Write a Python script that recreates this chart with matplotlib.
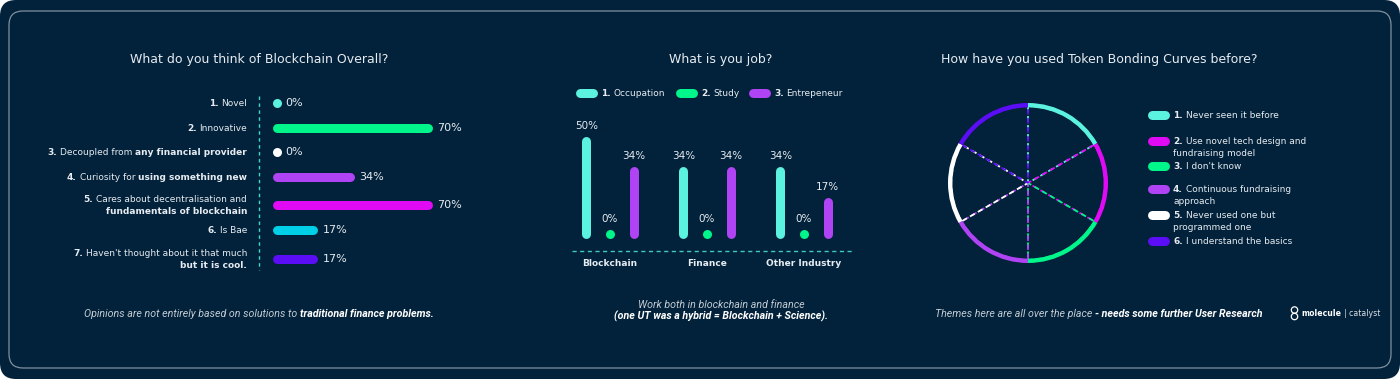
import numpy as np
import matplotlib
matplotlib.use("Agg")
import matplotlib.pyplot as plt
from matplotlib.patches import FancyBboxPatch, Circle

# ---- data ----
opinion_labels = [
    [[("1.", True), (" Novel", False)]],
    [[("2.", True), (" Innovative", False)]],
    [[("3.", True), (" Decoupled from ", False), ("any financial provider", True)]],
    [[("4.", True), (" Curiosity for ", False), ("using something new", True)]],
    [[("5.", True), (" Cares about decentralisation and", False)],
     [("fundamentals of blockchain", True)]],
    [[("6.", True), (" Is Bae", False)]],
    [[("7.", True), (" Haven't thought about it that much", False)],
     [("but it is cool.", True)]],
]
opinion_values = [0, 70, 0, 34, 70, 17, 17]
opinion_colors = ['#5cf2e0', '#00f58a', '#ffffff', '#b044f5', '#e00af5', '#00cfe8', '#5b0ef5']

job_groups = ['Blockchain', 'Finance', 'Other Industry']
job_series = ['Occupation', 'Study', 'Entrepeneur']
occupation = [50, 34, 34]
study = [0, 0, 0]
entrepreneur = [34, 34, 17]
job_colors = ['#5cf2e0', '#00f58a', '#b044f5']

tbc_labels = [
    [[("1.", True), (" Never seen it before", False)]],
    [[("2.", True), (" Use novel tech design and", False)], [("fundraising model", False)]],
    [[("3.", True), (" I don't know", False)]],
    [[("4.", True), (" Continuous fundraising", False)], [("approach", False)]],
    [[("5.", True), (" Never used one but", False)], [("programmed one", False)]],
    [[("6.", True), (" I understand the basics", False)]],
]
tbc_shares = [1, 1, 1, 1, 1, 1]
tbc_colors = ['#5cf2e0', '#e00af5', '#00f58a', '#b044f5', '#ffffff', '#5b0ef5']

NAVY = '#02213a'
TXT = '#e6ecf1'
SOFT = '#c3ccd4'
PX = 0.72  # points per pixel at dpi 100

W, H = 1400, 379
fig = plt.figure(figsize=(W / 100, H / 100), dpi=100, facecolor='white')
bg = fig.add_axes([0, 0, 1, 1])
bg.set_xlim(0, W)
bg.set_ylim(H, 0)
bg.axis('off')
bg.add_patch(FancyBboxPatch((0, 0), W, H, boxstyle='round,pad=0,rounding_size=16',
                            fc=NAVY, ec='none', zorder=0))
bg.add_patch(FancyBboxPatch((9, 11), 1382, 357, boxstyle='round,pad=0,rounding_size=14',
                            fc='none', ec='#7f909f', lw=0.9, zorder=1))

renderer = fig.canvas.get_renderer()


def text_w(s, **kw):
    t = bg.text(0, 0, s, **kw)
    w = t.get_window_extent(renderer).width
    t.remove()
    return w


def rich_line(x, y, parts, ha='left', size=6.5, color=TXT, bold_color=None,
              style='normal', family='DejaVu Sans'):
    # y is the text centre line in pixels; pieces placed on a common baseline
    kw = dict(fontsize=size, fontstyle=style, family=family)
    space = text_w("n n", **kw) - text_w("nn", **kw)
    pieces = []
    total = 0
    for s, b in parts:
        lead = len(s) - len(s.lstrip(' '))
        trail = len(s) - len(s.rstrip(' '))
        core = s.strip(' ')
        c = (bold_color or color) if b else color
        t = bg.text(0, y + size * 0.36 / PX, core, color=c,
                    fontweight='bold' if b else 'normal',
                    va='baseline', ha='left', zorder=5, **kw)
        w = t.get_window_extent(renderer).width
        pieces.append((t, lead * space, w, trail * space))
        total += lead * space + w + trail * space
    if ha == 'right':
        cur = x - total
    elif ha == 'center':
        cur = x - total / 2
    else:
        cur = x
    for t, l, w, tr in pieces:
        cur += l
        t.set_x(cur)
        cur += w + tr


def pill(x0, x1, y, color, h=9):
    bg.plot([x0 + h / 2, x1 - h / 2], [y, y], color=color, lw=h * PX,
            solid_capstyle='round', zorder=4)


# ---- titles ----
for cx, title in [(259, "What do you think of Blockchain Overall?"),
                  (721, "What is you job?"),
                  (1099, "How have you used Token Bonding Curves before?")]:
    bg.text(cx, 59, title, ha='center', va='center', fontsize=9, color=TXT,
            family='DejaVu Sans')

# ---- left: horizontal rounded bars ----
px_per = 2.17
x0 = 276.5
ax1 = fig.add_axes([x0 / W, 1 - 270 / H, 100 * px_per / W, 180 / H])
ax1.set_xlim(0, 100)
ax1.set_ylim(270, 90)
ax1.axis('off')
row_y = 103 + np.arange(7) * 25 + np.array([0, 0, -1, -1, 2, 2, 6])
for yy, v, c, lab in zip(row_y, opinion_values, opinion_colors, opinion_labels):
    if v > 0:
        ax1.plot([0, v], [yy, yy], color=c, lw=9 * PX, solid_capstyle='round',
                 clip_on=False)
    else:
        ax1.plot([0], [yy], 'o', color=c, ms=9 * PX, mec='none', clip_on=False)
    ax1.annotate(f"{v}%", xy=(v, yy), xytext=(9, 0), textcoords='offset pixels',
                 va='center', ha='left', fontsize=8, color=TXT, annotation_clip=False)
    n = len(lab)
    for k, line in enumerate(lab):
        ly = yy + (k - (n - 1) / 2) * 12
        rich_line(247, ly, line, ha='right', size=6.5)
bg.plot([259, 259], [96, 270], color='#3fd6d0', lw=1, dashes=(2.5, 2.5), zorder=3)

# ---- middle: grouped vertical rounded bars ----
unit = 97.0
gx0 = 610
vy = 1.85
ax2 = fig.add_axes([(gx0 - 0.6 * unit) / W, 1 - 233.5 / H, 3.1 * unit / W, 60 * vy / H])
ax2.set_xlim(-0.6, 2.5)
ax2.set_ylim(0, 60)
ax2.axis('off')
offsets = [-0.245, 0.0, 0.245]
for series, off, c in zip([occupation, study, entrepreneur], offsets, job_colors):
    for i, v in enumerate(series):
        xx = i + off
        if v > 0:
            ax2.plot([xx, xx], [0, v], color=c, lw=9 * PX, solid_capstyle='round',
                     clip_on=False)
        else:
            ax2.plot([xx], [0], 'o', color=c, ms=9 * PX, mec='none', clip_on=False)
        ax2.annotate(f"{v}%", xy=(xx, v), xytext=(0, 15), textcoords='offset pixels',
                     ha='center', va='center', fontsize=7.5, color=TXT,
                     annotation_clip=False)
for i, g in enumerate(job_groups):
    ax2.annotate(g, xy=(i, 0), xytext=(0, -30.5), textcoords='offset pixels',
                 ha='center', va='center', fontsize=6.5, fontweight='bold', color=TXT,
                 annotation_clip=False)
bg.plot([572, 852], [250.7, 250.7], color='#3fc9c0', lw=1, dashes=(3, 2.5), zorder=3)

leg_x = [575, 675, 748]
for lx, name, c, k in zip(leg_x, job_series, job_colors, range(3)):
    pill(lx, lx + 22, 93, c)
    rich_line(lx + 26, 93, [(f"{k + 1}.", True), (" " + name, False)], size=6.5)

# ---- right: ring pie with dashed spokes ----
cx, cy, r = 1028, 183, 80
lim = 1.0625
ax3 = fig.add_axes([(cx - r * lim) / W, 1 - (cy + r * lim) / H, 2 * r * lim / W, 2 * r * lim / H])
spokes, _ = ax3.pie(tbc_shares, startangle=90, counterclock=False, radius=0.96,
                    wedgeprops=dict(fill=False, lw=1.3, linestyle=(0, (3, 2))))
for wdg, c in zip(spokes, tbc_colors):
    wdg.set_edgecolor(c)
    wdg.set_zorder(2)
ring, _ = ax3.pie(tbc_shares, colors=tbc_colors, startangle=90, counterclock=False,
                  radius=1.0, wedgeprops=dict(width=0.055, edgecolor='none'))
for wdg in ring:
    wdg.set_zorder(3)
ax3.set_xlim(-lim, lim)
ax3.set_ylim(-lim, lim)
ax3.axis('off')

leg_y = [115, 146.5, 166, 194.5, 220.5, 241]
for ly, lab, c in zip(leg_y, tbc_labels, tbc_colors):
    n = len(lab)
    top = ly - (n - 1) / 2 * 11.5
    pill(1147, 1169, top, c)
    for k, line in enumerate(lab):
        rich_line(1173, top + k * 11.5, line, size=6.5)

# ---- footnotes ----
FN = dict(style='italic', family='Roboto', size=7.7, color=SOFT, bold_color='#ffffff')
rich_line(259, 313, [("Opinions are not entirely based on solutions to ", False),
                     ("traditional finance problems.", True)], ha='center', **FN)
rich_line(721, 304, [("Work both in blockchain and finance", False)], ha='center', **FN)
rich_line(721, 316, [("(one UT was a hybrid = Blockchain + Science).", True)], ha='center', **FN)
rich_line(1099, 313, [("Themes here are all over the place ", False),
                      ("- needs some further User Research", True)], ha='center', **FN)

# logo
bg.add_patch(Circle((1294.5, 310), 3.2, fill=False, ec='white', lw=0.9, zorder=5))
bg.add_patch(Circle((1294.5, 316.5), 3.2, fill=False, ec='white', lw=0.9, zorder=5))
rich_line(1301, 313, [("molecule", True), (" | catalyst", False)], size=5.6,
          color='#dde3e8', bold_color='#ffffff')

fig.savefig("out.png", dpi=100, facecolor='white')
